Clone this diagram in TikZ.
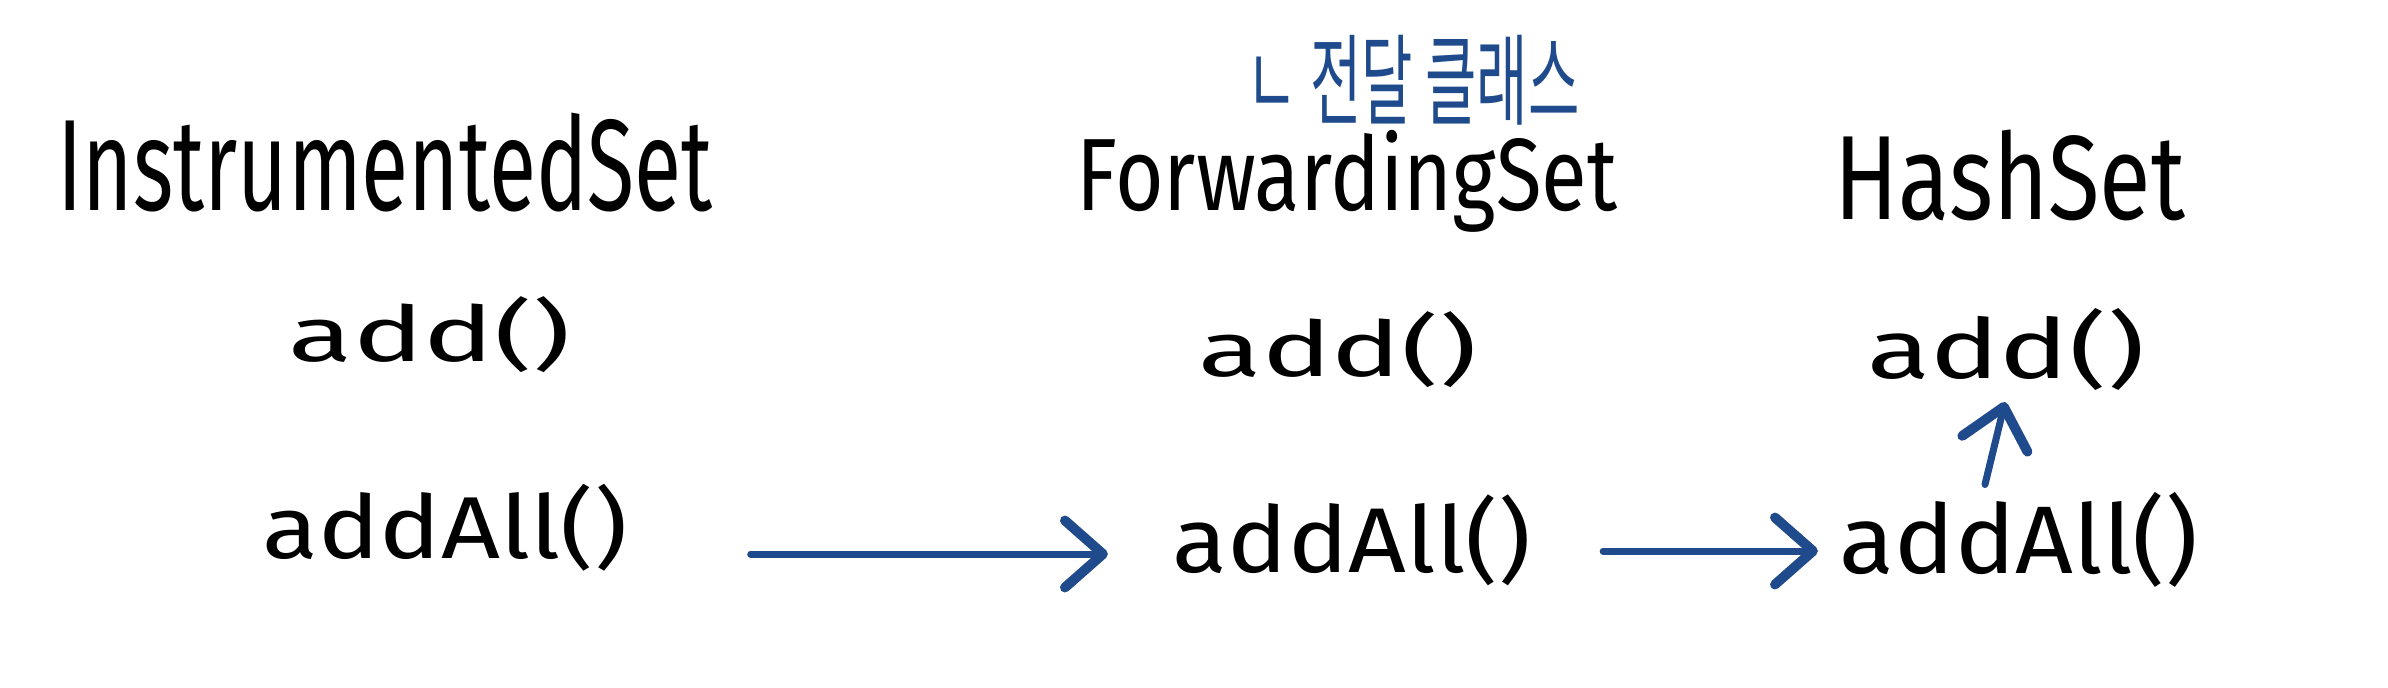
\documentclass[tikz,border=0pt]{standalone}
\usepackage{fontspec}
\usepackage{graphicx}
\setmainfont{Fira Sans}
\newfontfamily\krfont{Noto Sans CJK KR}
\usetikzlibrary{arrows.meta,calc}
\definecolor{inkblue}{HTML}{1F4A8C}
\newcommand{\hw}[3]{\resizebox*{#1}{#2}{#3}}
\tikzset{
  hand/.style={inner sep=0pt, outer sep=0pt, anchor=center},
  callarrow/.style={draw=inkblue, line width=2pt, line cap=round,
    -{Straight Barb[length=3.8mm, width=6.7mm, round, line width=2.8pt]}},
}
\begin{document}
\begin{tikzpicture}[x=0.01cm, y=-0.01cm]
\useasboundingbox (0,0) rectangle (2388,687);
% class names
\node[hand] (is) at (385,163) {\hw{6.55cm}{0.99cm}{InstrumentedSet}};
\node[hand] (fs) at (1347,181) {\hw{5.40cm}{1.02cm}{ForwardingSet}};
\node[hand] (hs) at (2010,175) {\hw{3.50cm}{0.91cm}{HashSet}};
\node[hand, text=inkblue] (note) at (1413,80) {\hw{3.33cm}{0.90cm}{\krfont ㄴ 전달 클래스}};
% methods
\node[hand] (add1) at (430,335) {\hw{2.82cm}{0.76cm}{add()}};
\node[hand] (add2) at (1338,350) {\hw{2.78cm}{0.76cm}{add()}};
\node[hand] (add3) at (2006,349) {\hw{2.77cm}{0.82cm}{add()}};
\node[hand] (all1) at (445,528) {\hw{3.65cm}{0.87cm}{addAll()}};
\node[hand] (all2) at (1352,540) {\hw{3.58cm}{0.91cm}{addAll()}};
\node[hand] (all3) at (2019,540) {\hw{3.58cm}{0.95cm}{addAll()}};
% connectors
\draw[callarrow, shorten <=1.23cm, shorten >=0.65cm] ($(all1.east |- all2.west)+(0,14)$) -- ($(all2.west)+(0,14)$);
\draw[callarrow, shorten <=0.72cm, shorten >=0.22cm] ($(all2.east)+(0,11)$) -- ($(all3.west)+(0,11)$);
\draw[callarrow] ([xshift=-0.34cm, yshift=0.08cm]all3.north) -- ([xshift=-0.01cm, yshift=-0.12cm]add3.south);
\end{tikzpicture}
\end{document}
